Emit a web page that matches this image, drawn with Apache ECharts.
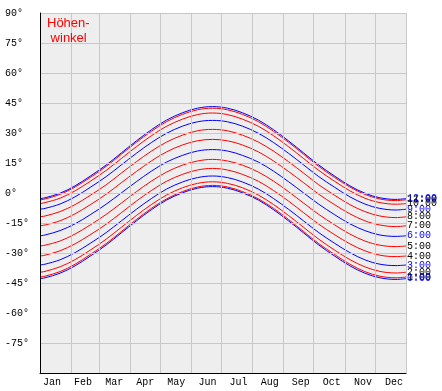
<!DOCTYPE html>
<html><head><meta charset="utf-8">
<script src="https://cdn.jsdelivr.net/npm/echarts@6/dist/echarts.min.js"></script>
<style>html,body{margin:0;padding:0;background:#fff}#c{width:442px;height:391px}</style>
</head><body><div id="c"></div>
<script>
const months = ['Jan','Feb','Mar','Apr','May','Jun','Jul','Aug','Sep','Oct','Nov','Dec'];
const monthDays = [31,28,31,30,31,30,31,31,30,31,30,31];
const labelDays = [12,43,74,105,136,167,198,229,260,291,322,353];
const yTicks = [90,75,60,45,30,15,0,-15,-30,-45,-60,-75];
const hourLabels = ['0:00','1:00','2:00','3:00','4:00','5:00','6:00','7:00','8:00','9:00','10:00','11:00','12:00'];
const sampleDays = [0,5,20,35,50,66,81,96,111,126,142,157,172,187,202,218,233,248,263,278,294,309,324,339,355,365];

const alt00 = [-42.8,-42.4,-40.1,-36.4,-31.6,-26.0,-20.0,-14.0,-8.4,-3.6,0.1,2.4,3.2,2.4,0.1,-3.6,-8.4,-14.0,-20.0,-26.0,-31.6,-36.4,-40.1,-42.4,-43.2,-42.8];
const alt01 = [-42.0,-41.6,-39.3,-35.6,-30.8,-25.3,-19.3,-13.3,-7.7,-3.0,0.7,3.0,3.8,3.0,0.7,-3.0,-7.7,-13.3,-19.3,-25.3,-30.8,-35.6,-39.3,-41.6,-42.4,-42.0];
const alt02 = [-39.6,-39.2,-36.9,-33.3,-28.6,-23.1,-17.2,-11.3,-5.8,-1.1,2.6,4.8,5.6,4.8,2.6,-1.1,-5.8,-11.3,-17.2,-23.1,-28.6,-33.3,-36.9,-39.2,-40.0,-39.6];
const alt03 = [-36.0,-35.6,-33.4,-29.8,-25.2,-19.8,-14.0,-8.2,-2.8,1.9,5.5,7.7,8.5,7.7,5.5,1.9,-2.8,-8.2,-14.0,-19.8,-25.2,-29.8,-33.4,-35.6,-36.3,-36.0];
const alt04 = [-31.5,-31.1,-28.9,-25.4,-20.9,-15.6,-9.9,-4.1,1.2,5.8,9.3,11.5,12.3,11.5,9.3,5.8,1.2,-4.1,-9.9,-15.6,-20.9,-25.4,-28.9,-31.1,-31.8,-31.5];
const alt05 = [-26.5,-26.1,-24.0,-20.5,-16.0,-10.7,-5.1,0.6,5.9,10.4,13.9,16.0,16.8,16.0,13.9,10.4,5.9,0.6,-5.1,-10.7,-16.0,-20.5,-24.0,-26.1,-26.8,-26.5];
const alt06 = [-21.4,-21.0,-18.8,-15.4,-10.9,-5.6,0,5.6,10.9,15.4,18.8,21.0,21.7,21.0,18.8,15.4,10.9,5.6,0,-5.6,-10.9,-15.4,-18.8,-21.0,-21.7,-21.4];
const alt07 = [-16.4,-16.0,-13.9,-10.4,-5.9,-0.6,5.1,10.7,16.0,20.5,24.0,26.1,26.8,26.1,24.0,20.5,16.0,10.7,5.1,-0.6,-5.9,-10.4,-13.9,-16.0,-16.8,-16.4];
const alt08 = [-11.9,-11.5,-9.3,-5.8,-1.2,4.1,9.9,15.6,20.9,25.4,28.9,31.1,31.8,31.1,28.9,25.4,20.9,15.6,9.9,4.1,-1.2,-5.8,-9.3,-11.5,-12.3,-11.9];
const alt09 = [-8.1,-7.7,-5.5,-1.9,2.8,8.2,14.0,19.8,25.2,29.8,33.4,35.6,36.3,35.6,33.4,29.8,25.2,19.8,14.0,8.2,2.8,-1.9,-5.5,-7.7,-8.5,-8.1];
const alt10 = [-5.3,-4.8,-2.6,1.1,5.8,11.3,17.2,23.1,28.6,33.3,36.9,39.2,40.0,39.2,36.9,33.3,28.6,23.1,17.2,11.3,5.8,1.1,-2.6,-4.8,-5.6,-5.3];
const alt11 = [-3.4,-3.0,-0.7,3.0,7.7,13.3,19.3,25.3,30.8,35.6,39.3,41.6,42.4,41.6,39.3,35.6,30.8,25.3,19.3,13.3,7.7,3.0,-0.7,-3.0,-3.8,-3.4];
const alt12 = [-2.8,-2.4,-0.1,3.6,8.4,14.0,20.0,26.0,31.6,36.4,40.1,42.4,43.2,42.4,40.1,36.4,31.6,26.0,20.0,14.0,8.4,3.6,-0.1,-2.4,-3.2,-2.8];

const altitudes = [alt00,alt01,alt02,alt03,alt04,alt05,alt06,alt07,alt08,alt09,alt10,alt11,alt12];

const monthStarts = [0];
monthDays.forEach(d => monthStarts.push(monthStarts[monthStarts.length-1] + d));
const totalDays = monthStarts[monthStarts.length-1];
const daySlots = [];
for (let i = 0; i <= totalDays; i++) daySlots.push(String(i));

const MONO = '"Liberation Mono", "DejaVu Sans Mono", monospace';
const drawOrder = [11,1,12,10,9,8,7,6,5,4,3,2,0];
const series = drawOrder.map(h => ({
  type: 'line',
  name: hourLabels[h],
  xAxisIndex: 1,
  yAxisIndex: 0,
  data: sampleDays.map((d, i) => [d, altitudes[h][i]]),
  smooth: 0.35,
  showSymbol: false,
  symbol: 'none',
  lineStyle: { width: 1, color: h % 3 === 0 ? '#0000ff' : '#ff0000' },
  itemStyle: { color: h % 3 === 0 ? '#0000ff' : '#ff0000' },
  endLabel: {
    show: true,
    formatter: hourLabels[h],
    color: h % 3 === 0 ? '#0000ff' : '#000000',
    fontFamily: MONO,
    fontSize: 10,
    distance: 1
  },
  emphasis: { disabled: true },
  z: 3
}));

const chart = echarts.init(document.getElementById('c'), null, { renderer: 'canvas' });
chart.setOption({
  animation: false,
  backgroundColor: '#ffffff',
  grid: { left: 40, right: 36, top: 13, bottom: 18, show: true, backgroundColor: '#eeeeee', borderWidth: 0 },
  xAxis: [{
    type: 'category',
    data: daySlots,
    boundaryGap: false,
    position: 'bottom',
    axisLine: { show: true, onZero: false, lineStyle: { color: '#000', width: 1 } },
    axisTick: { show: false },
    splitLine: { show: true, interval: (idx) => monthStarts.indexOf(idx) >= 0, lineStyle: { color: '#c8c8c8', width: 1 } },
    axisLabel: {
      interval: (idx) => labelDays.indexOf(idx) >= 0,
      formatter: (val, idx) => months[labelDays.indexOf(Number(val))] || '',
      color: '#000', fontFamily: MONO, fontSize: 10, margin: 4
    },
    z: 5
  }, {
    type: 'value', min: 0, max: totalDays, show: false,
    axisLine: { onZero: false }
  }],
  yAxis: [{
    type: 'value', min: -90, max: 90, interval: 15,
    position: 'left',
    axisLine: { show: true, onZero: false, lineStyle: { color: '#000', width: 1 } },
    axisTick: { show: false },
    splitLine: { show: true, lineStyle: { color: '#c8c8c8', width: 1 } },
    axisLabel: {
      align: 'left', margin: 35, verticalAlign: 'middle', padding: [0, 0, 8, 0],
      color: '#000', fontFamily: MONO, fontSize: 10,
      formatter: (v) => yTicks.indexOf(v) >= 0 ? (v < 0 ? '-' + (-v) : String(v)) + '°' : ''
    },
    z: 5
  }],
  graphic: [{
    type: 'text', left: 47, top: 16, z: 10,
    style: { text: 'Höhen-\n winkel', fill: '#ff0000', font: '13px "Liberation Sans", Arial, sans-serif', lineHeight: 15, textAlign: 'left' }
  }],
  series: series
});
</script></body></html>
